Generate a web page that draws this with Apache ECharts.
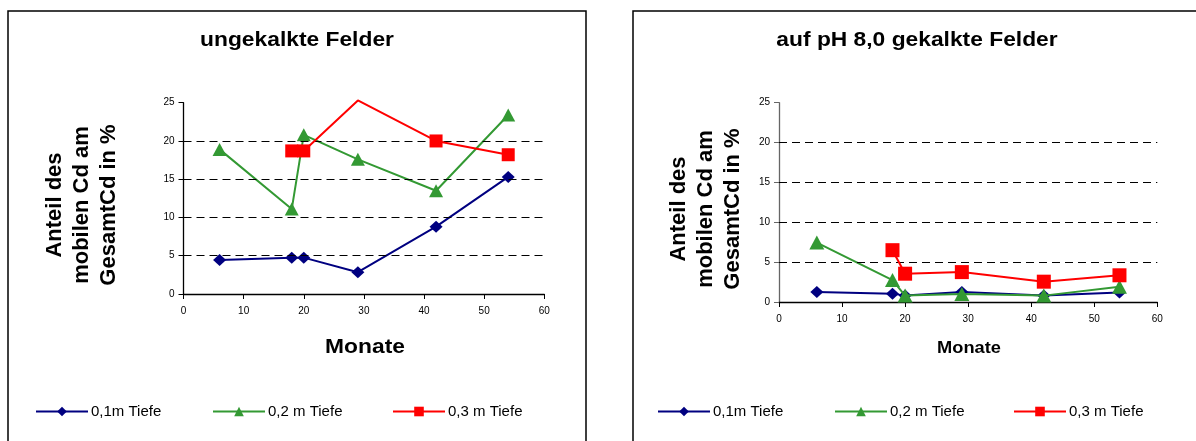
<!DOCTYPE html>
<html>
<head>
<meta charset="utf-8">
<title>Anteil des mobilen Cd am GesamtCd</title>
<script src="https://cdn.jsdelivr.net/npm/echarts@6/dist/echarts.min.js"></script>
<style>
  html, body { margin: 0; padding: 0; background: #ffffff; }
  #chart { width: 1196px; height: 441px; }
</style>
</head>
<body>
<div id="chart"></div>
<script>
// Sampling times (months) and mobile Cd share (% of total Cd)
const months = [6, 18, 20, 29, 42, 54];
const monthsRed = [18, 20, 29, 42, 54];

// unlimed fields
const unlimed01 = [4.45, 4.75, 4.75, 2.85, 8.8, 15.3];
const unlimed02 = [18.9, 11.1, 20.8, 17.6, 13.5, 23.4];
const unlimed03 = [18.7, 18.7, 25.3, 20.0, 18.2];

// fields limed to pH 8.0
const limed01 = [1.25, 1.05, 0.8, 1.25, 0.8, 1.2];
const limed02 = [7.45, 2.75, 0.8, 1.0, 0.8, 1.9];
const limed03 = [6.5, 3.55, 3.75, 2.55, 3.35];

const seriesNames = ['0,1m Tiefe', '0,2 m Tiefe', '0,3 m Tiefe'];
const colors = ['#000080', '#339933', '#FF0000'];
const symbols = ['diamond', 'triangle', 'rect'];
const gridValues = [5, 10, 15, 20];
const xTicks = { min: 0, max: 60, interval: 10 };
const yTicks = { min: 0, max: 25, interval: 5 };

const FONT = '"Liberation Sans", Arial, sans-serif';
const STRETCH = 1.14; // slightly widened lettering for horizontal titles

// marker sizes per chart: [diamond, triangle, square]
const markerSizes = [
  [[13, 12], [14, 13], [13, 13]],
  [[13, 12], [15, 14], [14, 14]]
];

function pairs(xs, ys) {
  return xs.map((x, i) => [x, ys[i]]);
}

function lineSeries(idx, name, data, k, extra) {
  return Object.assign({
    type: 'line',
    name: name,
    xAxisIndex: idx,
    yAxisIndex: idx,
    data: data,
    symbol: symbols[k],
    symbolSize: markerSizes[idx][k],
    lineStyle: { color: colors[k], width: 2 },
    itemStyle: { color: colors[k] },
    animation: false,
    z: 3 + k
  }, extra || {});
}

// dashed horizontal reference lines drawn through the axis scale
function gridSeries(idx) {
  return {
    type: 'line',
    xAxisIndex: idx,
    yAxisIndex: idx,
    data: [],
    silent: true,
    animation: false,
    markLine: {
      symbol: 'none',
      silent: true,
      animation: false,
      label: { show: false },
      lineStyle: { color: '#000', type: [8, 5], width: 1 },
      data: gridValues.map(v => ({ yAxis: v }))
    },
    z: 1
  };
}

function xAxis(idx) {
  return {
    type: 'value',
    gridIndex: idx,
    min: xTicks.min, max: xTicks.max, interval: xTicks.interval,
    axisLine: { onZero: false, lineStyle: { color: '#000', width: 1.3 } },
    axisTick: { show: true, length: 5, inside: false, lineStyle: { color: '#000' } },
    axisLabel: { color: '#000', fontFamily: FONT, fontSize: 10, margin: 12 },
    splitLine: { show: false }
  };
}

function yAxis(idx, axisColor) {
  return {
    type: 'value',
    gridIndex: idx,
    min: yTicks.min, max: yTicks.max, interval: yTicks.interval,
    axisLine: { show: true, lineStyle: { color: axisColor, width: 1.3 } },
    axisTick: { show: true, length: 5, inside: false, lineStyle: { color: axisColor } },
    axisLabel: { color: '#000', fontFamily: FONT, fontSize: 10, margin: 9 },
    splitLine: { show: false }
  };
}

function legendItem(name, left) {
  return {
    data: [name],
    left: left,
    top: 404,
    padding: 0,
    itemWidth: 52,
    itemHeight: 12,
    itemGap: 0,
    selectedMode: false,
    textStyle: { color: '#000', fontFamily: FONT, fontSize: 15, padding: [0, 0, 0, -2] }
  };
}

function label(text, x, y, size, rotated, lineHeight) {
  return {
    type: 'text',
    x: x, y: y,
    rotation: rotated ? Math.PI / 2 : 0,
    scaleX: rotated ? 1 : STRETCH,
    style: {
      text: text,
      fill: '#000',
      font: 'bold ' + size + 'px ' + FONT,
      textAlign: 'center',
      textVerticalAlign: 'middle',
      lineHeight: lineHeight || size
    }
  };
}

const yTitle = 'Anteil des\nmobilen Cd am\nGesamtCd in %';

const redUnlimed = pairs(monthsRed, unlimed03).map((p, i) =>
  unlimed03[i] > yTicks.max ? { value: p, symbol: 'none' } : p);

const option = {
  backgroundColor: '#ffffff',
  animation: false,
  grid: [
    { left: 183.5, right: 1196 - 544.3, top: 102.7, bottom: 441 - 294 },
    { left: 779, right: 1196 - 1157.3, top: 102.7, bottom: 441 - 302 }
  ],
  xAxis: [xAxis(0), xAxis(1)],
  yAxis: [yAxis(0, '#000'), yAxis(1, '#666')],
  legend: [
    legendItem(seriesNames[0], 35),
    legendItem(seriesNames[1], 212),
    legendItem(seriesNames[2], 392),
    legendItem(seriesNames[0], 657),
    legendItem(seriesNames[1], 834),
    legendItem(seriesNames[2], 1013)
  ],
  graphic: [
    { type: 'rect', shape: { x: 8, y: 11, width: 578, height: 460 },
      style: { fill: 'none', stroke: '#000', lineWidth: 1.5 }, z: 0 },
    { type: 'rect', shape: { x: 633, y: 11, width: 600, height: 460 },
      style: { fill: 'none', stroke: '#000', lineWidth: 1.5 }, z: 0 },
    label('ungekalkte Felder', 297, 40, 20),
    label('auf pH 8,0 gekalkte Felder', 917, 40, 20),
    label(yTitle, 82, 205, 22, true, 27),
    label(yTitle, 706, 209, 22, true, 27),
    label('Monate', 365, 347, 20),
    label('Monate', 969, 349, 16)
  ],
  series: [
    gridSeries(0),
    gridSeries(1),
    lineSeries(0, seriesNames[0], pairs(months, unlimed01), 0),
    lineSeries(0, seriesNames[1], pairs(months, unlimed02), 1),
    lineSeries(0, seriesNames[2], redUnlimed, 2, { clip: false }),
    lineSeries(1, seriesNames[0], pairs(months, limed01), 0),
    lineSeries(1, seriesNames[1], pairs(months, limed02), 1),
    lineSeries(1, seriesNames[2], pairs(monthsRed, limed03), 2)
  ]
};

const chart = echarts.init(document.getElementById('chart'), null, { renderer: 'canvas' });
chart.setOption(option);
</script>
</body>
</html>
